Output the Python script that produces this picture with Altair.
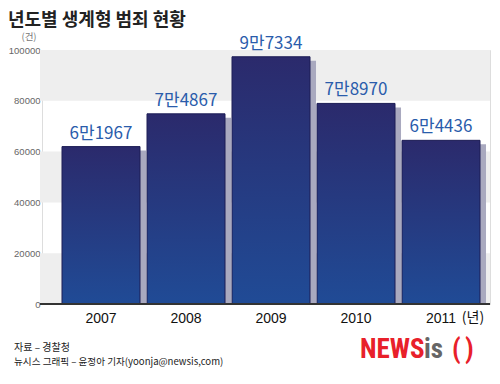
import altair as alt
import pandas as pd

years = ["2007", "2008", "2009", "2010", "2011"]
values = [61967, 74867, 97334, 78970, 64436]
value_labels = ["6만1967", "7만4867", "9만7334", "7만8970", "6만4436"]
y_ticks = [0, 20000, 40000, 60000, 80000, 100000]
band_lo = [0, 40000, 80000]
band_hi = [20000, 60000, 100000]

W, H = 448, 254
KR = "Noto Sans CJK KR"
NUM = "Liberation Sans"

df = pd.DataFrame({"year": years, "value": values, "label": value_labels})
bands = pd.DataFrame({"lo": band_lo, "hi": band_hi})

xscale = alt.Scale(paddingInner=0.0824, paddingOuter=0.1765, align=0.667)
yscale = alt.Scale(domain=[0, 100000], nice=False)
xaxis = alt.Axis(title=None, labelAngle=0, labelFontSize=14, labelColor="#111", labelFont=NUM,
                 domain=False, ticks=False, labelPadding=7, grid=False)
yaxis = alt.Axis(title=None, values=y_ticks, labelFontSize=9.5, labelColor="#666", labelFont=NUM,
                 domain=False, ticks=False, grid=False, labelPadding=2, format="d")

band_layer = alt.Chart(bands).mark_rect(color="#eeeeee").encode(
    x=alt.value(-2), x2=alt.value(W),
    y=alt.Y("lo:Q", scale=yscale, axis=yaxis), y2="hi:Q")

base = alt.Chart(df)
shadow = base.mark_bar(color="#a9a9bf", xOffset=6, yOffset=4, clip=True).encode(
    x=alt.X("year:N", scale=xscale, axis=xaxis),
    y=alt.Y("value:Q", scale=yscale, axis=yaxis))

grad = alt.Gradient(gradient="linear", x1=0, y1=0, x2=0, y2=1,
                    stops=[alt.GradientStop(color="#2b2a6c", offset=0),
                           alt.GradientStop(color="#204b96", offset=1)])
bars = base.mark_bar(color=grad, stroke="#1c1c55", strokeWidth=1).encode(
    x=alt.X("year:N", scale=xscale, axis=xaxis),
    y=alt.Y("value:Q", scale=yscale, axis=yaxis))

labels = base.mark_text(baseline="bottom", dy=-4, fontSize=17, font=KR, color="#2a5cab").encode(
    x=alt.X("year:N", scale=xscale, axis=xaxis),
    y=alt.Y("value:Q", scale=yscale, axis=yaxis),
    text="label:N")

baseline = alt.Chart(pd.DataFrame({"z": [0]})).mark_rule(color="#333", strokeWidth=2).encode(
    x=alt.value(-2), x2=alt.value(W), y=alt.value(H))

one = pd.DataFrame({"k": [0]})


def txt(s, x, y, **kw):
    return alt.Chart(one).mark_text(text=s, **kw).encode(x=alt.value(x), y=alt.value(y))


LOGO = "Roboto Condensed, Roboto"
annots = [
    txt("년도별 생계형 범죄 현황", -34, -29, fontSize=18, font=KR, fontWeight="bold",
        color="#222", align="left", baseline="middle"),
    txt("(건)", -13, -13, fontSize=9.5, font=KR, color="#777", align="center", baseline="middle"),
    txt("(년)", 431, 268, fontSize=14, font=KR, color="#111", align="center", baseline="middle"),
    txt("자료 – 경찰청", -28, 298, fontSize=10, font=KR, color="#222", align="left",
        baseline="middle"),
    txt("뉴시스 그래픽 – 윤정아 기자(yoonja@newsis,com)", -28, 312, fontSize=9.6, font=KR,
        color="#222", align="left", baseline="middle"),
    txt("NEWS", 318, 300, fontSize=27, font=LOGO, fontWeight="bold",
        color="#e8202a", align="left", baseline="middle"),
    txt("is", 382, 300, fontSize=27, font=LOGO, fontWeight="bold",
        color="#666", align="left", baseline="middle"),
    txt("(", 410, 300, fontSize=27, font=LOGO, fontWeight="bold",
        color="#e8202a", align="left", baseline="middle"),
    txt(")", 423, 300, fontSize=27, font=LOGO, fontWeight="bold",
        color="#e8202a", align="left", baseline="middle"),
]

chart = alt.layer(band_layer, shadow, bars, labels, baseline, *annots).properties(
    width=W, height=H,
    autosize=alt.AutoSizeParams(type="none"),
    padding={"left": 34, "top": 42, "right": 2, "bottom": 80},
).configure_view(stroke=None).configure(background="white")

chart.save("out.html", embed_options={"renderer": "svg", "actions": False})
